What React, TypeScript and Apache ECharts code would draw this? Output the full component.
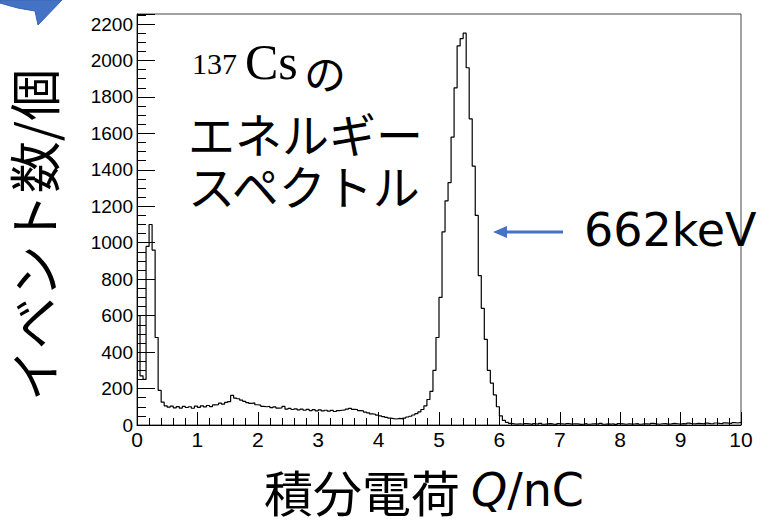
import React, { useEffect, useRef } from "react";
import * as echarts from "echarts";

// Histogram of the 137Cs spectrum: bin width 0.05 nC from 0 to 10 nC
const BIN_START = 0;
const BIN_WIDTH = 0.05;
const counts: number[] = [
  600, 270, 250, 980, 1100, 960, 480, 190, 125, 105,
  98, 104, 94, 101, 93, 102, 96, 100, 92, 104,
  97, 105, 99, 107, 101, 110, 112, 120, 114, 124,
  128, 162, 148, 144, 136, 130, 123, 119, 121, 111,
  109, 102, 100, 103, 95, 99, 93, 94, 102, 87,
  91, 85, 89, 83, 87, 81, 86, 79, 84, 78,
  83, 77, 81, 76, 80, 74, 79, 81, 83, 87,
  91, 86, 85, 79, 77, 71, 67, 61, 59, 54,
  50, 46, 42, 38, 35, 33, 36, 34, 38, 44,
  48, 55, 62, 72, 85, 105, 140, 185, 300, 480,
  700, 1060, 1230, 1330, 1580, 1850, 2080, 2120, 2150, 1960,
  1680, 1420, 1150, 820, 640, 470, 300, 230, 165, 100,
  50, 25, 14, 9, 6,
  5, 7, 4, 8, 6, 3, 7, 5, 9, 4,
  6, 8, 5, 3, 7, 6, 4, 8, 5, 7,
  6, 3, 5, 8, 4, 6, 7, 5, 9, 4,
  6, 5, 7, 3, 8, 6, 4, 7, 5, 6,
  8, 4, 6, 7, 5, 9, 6, 4, 7, 8,
  5, 6, 9, 7, 5, 8, 6, 10, 7, 6,
  9, 8, 6, 10, 8, 7, 11, 9, 8, 12,
  10, 9, 13, 11, 14,
];

const X_MIN = 0;
const X_MAX = 10;
const X_INTERVAL = 1;
const Y_MIN = 0;
const Y_MAX = 2255;
const Y_INTERVAL = 200;

const yTitle = "イベント数/個";
const xTitleJa = "積分電荷 ";
const xTitleQ = "Q";
const xTitleUnit = "/nC";
const isoMass = "137";
const isoSym = "Cs";
const noText = "の";
const line2 = "エネルギー";
const line3 = "スペクトル";
const peakLabel = "662keV";

const CJK = '"Noto Sans CJK JP", "Noto Sans", sans-serif';
const LATIN = '"DejaVu Sans", "Noto Sans", sans-serif';
const BLUE = "#4472C4";

echarts.graphic.registerShape(
  "callout",
  echarts.graphic.extendPath(
    "M0 0 L0 3 Q18 9 35 11 L38 25 L62 0 Z",
    {}
  )
);

export default function App() {
  const ref = useRef<HTMLDivElement>(null);
  useEffect(() => {
    if (!ref.current) return;
    const chart = echarts.init(ref.current, undefined, { renderer: "svg" });
    const data: [number, number][] = counts.map((c, i) => [
      +(BIN_START + i * BIN_WIDTH).toFixed(4),
      c,
    ]);
    data.push([BIN_START + counts.length * BIN_WIDTH, counts[counts.length - 1]]);

    chart.setOption({
      animation: false,
      backgroundColor: "#fff",
      grid: {
        left: 137,
        top: 14,
        right: 29,
        bottom: 102,
        show: true,
        borderColor: "#444",
        borderWidth: 1,
        backgroundColor: "transparent",
      },
      xAxis: {
        type: "value",
        min: X_MIN,
        max: X_MAX,
        interval: X_INTERVAL,
        axisLine: { show: true, lineStyle: { color: "#000", width: 1 } },
        axisTick: { show: true, inside: true, length: 13, lineStyle: { color: "#000" } },
        minorTick: { show: true, splitNumber: 5, length: 7, lineStyle: { color: "#000" } },
        splitLine: { show: false },
        minorSplitLine: { show: false },
        axisLabel: {
          color: "#000",
          fontSize: 21,
          fontFamily: '"Liberation Sans", Arial, sans-serif',
          margin: 4,
          formatter: (v: number) => String(v),
        },
      },
      yAxis: {
        type: "value",
        min: Y_MIN,
        max: Y_MAX,
        interval: Y_INTERVAL,
        axisLine: { show: true, lineStyle: { color: "#000", width: 1 } },
        axisTick: { show: true, inside: true, length: 18, lineStyle: { color: "#000" } },
        minorTick: { show: true, splitNumber: 4, length: 9, lineStyle: { color: "#000" } },
        splitLine: { show: false },
        minorSplitLine: { show: false },
        axisLabel: {
          color: "#000",
          fontSize: 19,
          fontFamily: '"Liberation Sans", Arial, sans-serif',
          margin: 4,
          showMaxLabel: false,
          formatter: (v: number) => String(v),
        },
      },
      series: [
        {
          type: "line",
          step: "end",
          data,
          showSymbol: false,
          symbol: "none",
          lineStyle: { color: "#000", width: 1.2 },
          silent: true,
        },
      ],
      graphic: [
        {
          type: "callout",
          x: 0,
          y: 0,
          style: { fill: BLUE, stroke: "#3A64B0", lineWidth: 1 },
          silent: true,
        },
        {
          type: "text",
          x: 32,
          y: 235,
          rotation: Math.PI / 2,
          style: {
            text: yTitle,
            fontSize: 52,
            lineHeight: 50,
            fontFamily: CJK,
            fill: "#000",
            align: "center",
            verticalAlign: "middle",
          },
        },
        {
          type: "text",
          x: 424,
          y: 490,
          style: {
            text: `{a|${xTitleJa}}{q|${xTitleQ}}{b|${xTitleUnit}}`,
            fill: "#000",
            align: "center",
            verticalAlign: "middle",
            rich: {
              a: { fontSize: 49, fontFamily: CJK, fill: "#000" },
              q: { fontSize: 46, fontFamily: LATIN, fontStyle: "italic", fill: "#000" },
              b: { fontSize: 46, fontFamily: LATIN, fill: "#000" },
            },
          },
        },
        {
          type: "text",
          x: 192,
          y: 48,
          style: {
            text: isoMass,
            fontSize: 30,
            fontFamily: '"Liberation Serif", "DejaVu Serif", serif',
            fill: "#000",
            align: "left",
            verticalAlign: "top",
          },
        },
        {
          type: "text",
          x: 245,
          y: 87,
          style: {
            text: isoSym,
            fontSize: 50,
            fontFamily: '"Liberation Serif", "DejaVu Serif", serif',
            fill: "#000",
            align: "left",
            verticalAlign: "bottom",
          },
        },
        {
          type: "text",
          x: 304,
          y: 71,
          style: {
            text: noText,
            fontSize: 42,
            fontFamily: CJK,
            fill: "#000",
            align: "left",
            verticalAlign: "middle",
          },
        },
        {
          type: "text",
          x: 188,
          y: 132,
          style: {
            text: line2,
            fontSize: 47,
            lineHeight: 47,
            fontFamily: CJK,
            fill: "#000",
            align: "left",
            verticalAlign: "middle",
          },
        },
        {
          type: "text",
          x: 188,
          y: 184,
          style: {
            text: line3,
            fontSize: 47,
            lineHeight: 47,
            fontFamily: CJK,
            fill: "#000",
            align: "left",
            verticalAlign: "middle",
          },
        },
        {
          type: "line",
          shape: { x1: 505, y1: 232, x2: 563, y2: 232 },
          style: { stroke: BLUE, lineWidth: 3 },
        },
        {
          type: "polygon",
          shape: { points: [[493, 232], [507, 226], [507, 238]] },
          style: { fill: BLUE },
        },
        {
          type: "text",
          x: 584,
          y: 230,
          style: {
            text: peakLabel,
            fontSize: 46,
            fontFamily: LATIN,
            fill: "#000",
            align: "left",
            verticalAlign: "middle",
          },
        },
      ],
    });
    return () => chart.dispose();
  }, []);
  return (
    <div
      ref={ref}
      style={{ position: "fixed", left: 0, top: 0, width: 770, height: 527 }}
    />
  );
}
